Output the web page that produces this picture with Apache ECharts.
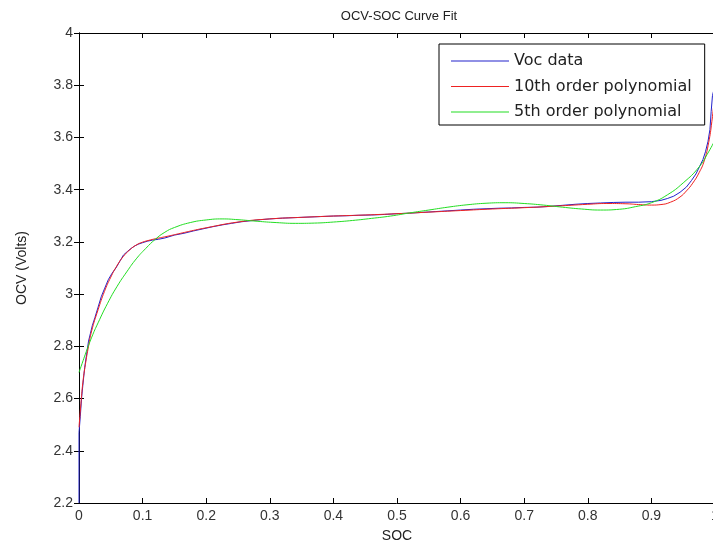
<!DOCTYPE html>
<html>
<head>
<meta charset="utf-8">
<script src="https://cdn.jsdelivr.net/npm/echarts@6/dist/echarts.min.js"></script>
<style>
html,body{margin:0;padding:0;background:#fff;}
#c{width:713px;height:554px;}
</style>
</head>
<body>
<div id="c"></div>
<script>
// ---- data ----
var xTicks = [0, 0.1, 0.2, 0.3, 0.4, 0.5, 0.6, 0.7, 0.8, 0.9, 1];
var yTicks = [2.2, 2.4, 2.6, 2.8, 3, 3.2, 3.4, 3.6, 3.8, 4];

var seriesNames = ['Voc data', '10th order polynomial', '5th order polynomial'];

var socVoc = [0, 0, 0.002, 0.004, 0.006, 0.009, 0.012, 0.015, 0.018, 0.021, 0.025, 0.030, 0.035, 0.040, 0.046, 0.052, 0.058, 0.064, 0.070, 0.076, 0.082, 0.088, 0.094, 0.100, 0.108, 0.116, 0.125, 0.135, 0.150, 0.165, 0.180, 0.195, 0.210, 0.225, 0.240, 0.255, 0.270, 0.285, 0.300, 0.320, 0.340, 0.360, 0.380, 0.400, 0.420, 0.440, 0.460, 0.480, 0.500, 0.520, 0.540, 0.560, 0.580, 0.600, 0.620, 0.640, 0.660, 0.680, 0.700, 0.720, 0.740, 0.760, 0.780, 0.800, 0.820, 0.840, 0.860, 0.880, 0.900, 0.915, 0.925, 0.935, 0.945, 0.955, 0.963, 0.970, 0.976, 0.981, 0.985, 0.989, 0.992, 0.994, 0.996, 0.998, 1.0];
var vocV = [2.2, 2.47, 2.53, 2.60, 2.65, 2.72, 2.77, 2.82, 2.85, 2.88, 2.91, 2.95, 2.99, 3.02, 3.055, 3.08, 3.10, 3.125, 3.15, 3.163, 3.175, 3.185, 3.192, 3.197, 3.203, 3.207, 3.210, 3.215, 3.226, 3.233, 3.242, 3.250, 3.258, 3.265, 3.271, 3.277, 3.281, 3.285, 3.288, 3.291, 3.293, 3.295, 3.297, 3.299, 3.300, 3.302, 3.303, 3.305, 3.308, 3.310, 3.313, 3.316, 3.319, 3.322, 3.325, 3.327, 3.329, 3.330, 3.332, 3.333, 3.336, 3.340, 3.344, 3.347, 3.349, 3.351, 3.352, 3.352, 3.354, 3.359, 3.366, 3.375, 3.39, 3.41, 3.435, 3.46, 3.49, 3.515, 3.545, 3.585, 3.63, 3.70, 3.76, 3.78, 3.79];

var socP10 = [0, 0.003, 0.006, 0.01, 0.015, 0.02, 0.03, 0.04, 0.05, 0.06, 0.07, 0.08, 0.09, 0.1, 0.11, 0.12, 0.14, 0.16, 0.18, 0.2, 0.25, 0.3, 0.35, 0.4, 0.45, 0.5, 0.55, 0.6, 0.65, 0.7, 0.75, 0.8, 0.83, 0.86, 0.88, 0.9, 0.915, 0.93, 0.945, 0.955, 0.965, 0.975, 0.983, 0.99, 0.995, 1.0];
var p10V = [2.49, 2.58, 2.66, 2.73, 2.80, 2.86, 2.94, 3.01, 3.065, 3.11, 3.145, 3.17, 3.188, 3.199, 3.206, 3.212, 3.222, 3.233, 3.244, 3.254, 3.276, 3.288, 3.294, 3.299, 3.303, 3.308, 3.314, 3.320, 3.326, 3.331, 3.337, 3.344, 3.347, 3.346, 3.343, 3.341, 3.343, 3.352, 3.372, 3.395, 3.425, 3.465, 3.51, 3.58, 3.66, 3.77];

var socP5 = [0, 0.005, 0.01, 0.02, 0.03, 0.045, 0.06, 0.075, 0.09, 0.105, 0.12, 0.135, 0.15, 0.175, 0.2, 0.225, 0.25, 0.28, 0.31, 0.34, 0.37, 0.4, 0.43, 0.46, 0.49, 0.52, 0.55, 0.58, 0.61, 0.64, 0.67, 0.7, 0.73, 0.76, 0.79, 0.82, 0.85, 0.875, 0.9, 0.925, 0.95, 0.975, 0.99, 1.0];
var p5V = [2.70, 2.735, 2.77, 2.835, 2.89, 2.965, 3.03, 3.085, 3.135, 3.175, 3.21, 3.237, 3.255, 3.274, 3.284, 3.288, 3.285, 3.279, 3.274, 3.271, 3.272, 3.276, 3.282, 3.29, 3.299, 3.311, 3.322, 3.333, 3.342, 3.348, 3.35, 3.347, 3.341, 3.333, 3.326, 3.322, 3.325, 3.335, 3.35, 3.38, 3.426, 3.487, 3.545, 3.59];

// ---- build ----
function zip(xs, ys) { return xs.map(function (x, i) { return [x, ys[i]]; }); }
var xInt = +(xTicks[1] - xTicks[0]).toFixed(6);
var yInt = +(yTicks[1] - yTicks[0]).toFixed(6);
var fmt = function (v) { return String(+(+v).toFixed(2)); };

var tickFont = { fontFamily: 'Liberation Sans', fontSize: 14, color: '#333' };
var axisLine = { show: true, lineStyle: { color: '#000', width: 1 } };
var tick = { show: true, inside: true, length: 5, lineStyle: { color: '#000', width: 1 } };

var chart = echarts.init(document.getElementById('c'), null, { renderer: 'canvas' });
chart.setOption({
  animation: false,
  backgroundColor: '#fff',
  title: {
    text: 'OCV-SOC Curve Fit',
    left: 394, top: 5, textAlign: 'center',
    textStyle: { fontFamily: 'Liberation Sans', fontSize: 13, fontWeight: 'normal', color: '#222' }
  },
  grid: { left: 79, top: 33, width: 636, height: 470, containLabel: false, outerBoundsMode: 'none' },
  legend: {
    data: seriesNames,
    orient: 'vertical',
    left: 439, top: 44,
    padding: [9, 13, 5, 12],
    icon: 'rect',
    itemWidth: 58, itemHeight: 1, itemGap: 9.5,
    borderColor: '#000', borderWidth: 1, borderRadius: 0,
    backgroundColor: '#fff',
    selectedMode: false,
    textStyle: { fontFamily: 'DejaVu Sans', fontSize: 16, lineHeight: 16, color: '#222' }
  },
  xAxis: [{
    type: 'value', position: 'bottom',
    min: xTicks[0], max: xTicks[xTicks.length - 1], interval: xInt,
    name: 'SOC', nameLocation: 'middle', nameGap: 26, nameMoveOverlap: false,
    nameTextStyle: { fontFamily: 'Liberation Sans', fontSize: 14, color: '#222', verticalAlign: 'top' },
    axisLine: axisLine, axisTick: tick,
    axisLabel: Object.assign({ margin: 6, formatter: fmt, showMinLabel: true, showMaxLabel: true }, tickFont),
    splitLine: { show: false }
  }, {
    type: 'value', position: 'top',
    min: xTicks[0], max: xTicks[xTicks.length - 1], interval: xInt,
    axisLine: axisLine, axisTick: tick, axisLabel: { show: false }, splitLine: { show: false }
  }],
  yAxis: [{
    type: 'value', position: 'left',
    min: yTicks[0], max: yTicks[yTicks.length - 1], interval: yInt,
    name: 'OCV (Volts)', nameLocation: 'middle', nameGap: 50, nameMoveOverlap: false,
    nameTextStyle: { fontFamily: 'Liberation Sans', fontSize: 14, color: '#222' },
    axisLine: axisLine, axisTick: tick,
    axisLabel: Object.assign({ margin: 6, formatter: fmt, showMinLabel: true, showMaxLabel: true }, tickFont),
    splitLine: { show: false }
  }, {
    type: 'value', position: 'right',
    min: yTicks[0], max: yTicks[yTicks.length - 1], interval: yInt,
    axisLine: axisLine, axisTick: tick, axisLabel: { show: false }, splitLine: { show: false }
  }],
  series: [{
    name: seriesNames[0], type: 'line', data: zip(socVoc, vocV),
    symbol: 'none', smooth: false, lineStyle: { color: '#2222cc', width: 1 }, itemStyle: { color: '#2222cc' }, z: 2
  }, {
    name: seriesNames[1], type: 'line', data: zip(socP10, p10V),
    symbol: 'none', smooth: true, lineStyle: { color: '#ee2222', width: 1 }, itemStyle: { color: '#ee2222' }, z: 3
  }, {
    name: seriesNames[2], type: 'line', data: zip(socP5, p5V),
    symbol: 'none', smooth: true, lineStyle: { color: '#22dd22', width: 1 }, itemStyle: { color: '#22dd22' }, z: 4
  }]
});
</script>
</body>
</html>
